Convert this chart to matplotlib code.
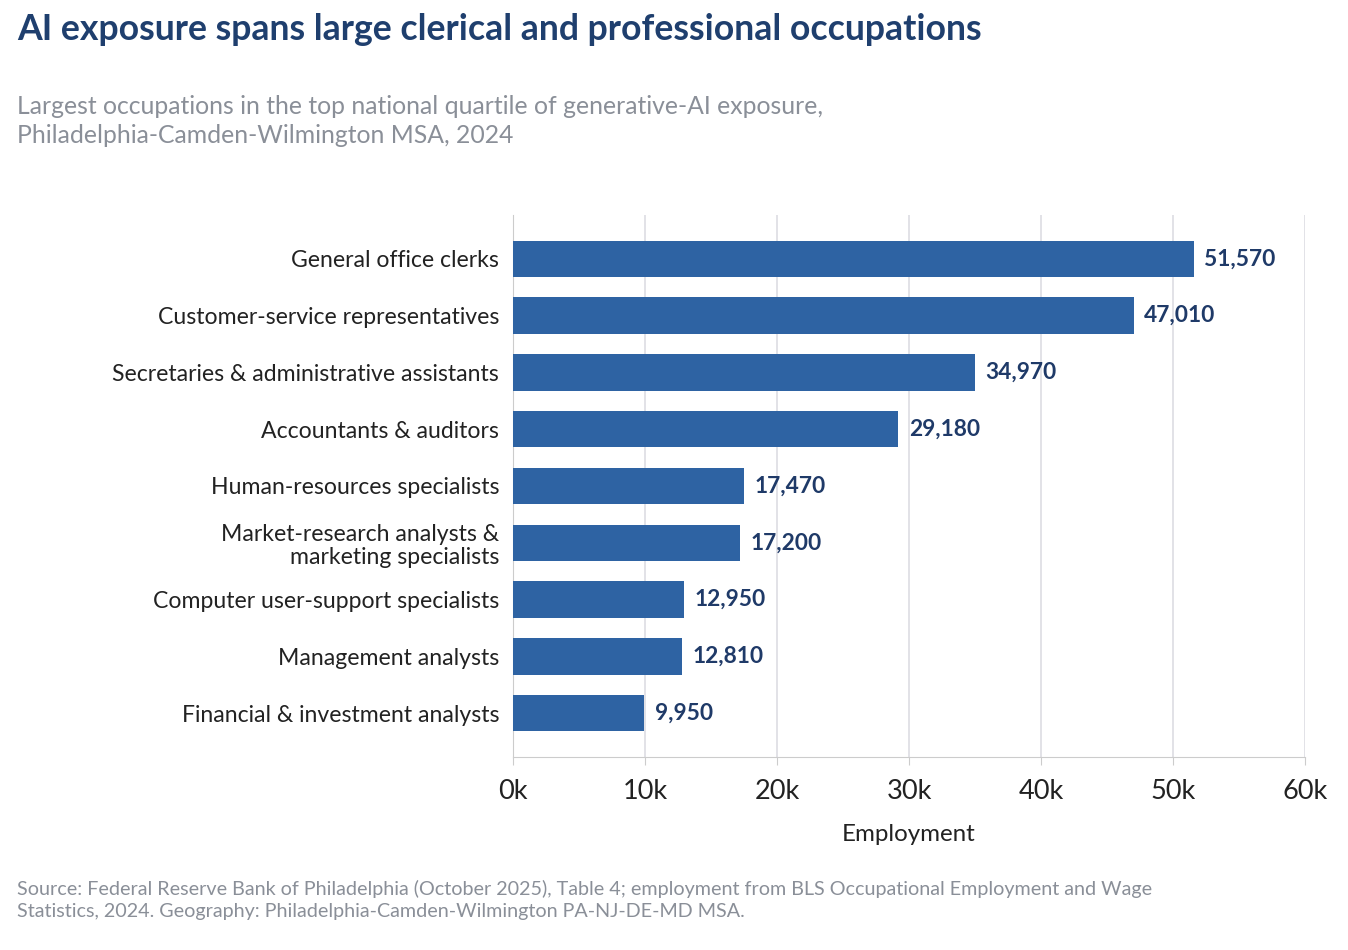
import matplotlib
import matplotlib.pyplot as plt
import numpy as np

plt.rcParams['font.family'] = ['Lato', 'DejaVu Sans']

occupations = ["General office clerks",
               "Customer-service representatives",
               "Secretaries & administrative assistants",
               "Accountants & auditors",
               "Human-resources specialists",
               "Market-research analysts &\nmarketing specialists",
               "Computer user-support specialists",
               "Management analysts",
               "Financial & investment analysts"]
employment = [51570, 47010, 34970, 29180, 17470, 17200, 12950, 12810, 9950]
xticks = [0, 10000, 20000, 30000, 40000, 50000, 60000]
xtick_labels = ["0k", "10k", "20k", "30k", "40k", "50k", "60k"]

fig = plt.figure(figsize=(13.48, 9.5), dpi=100)
ax = fig.add_axes([513/1348, 1-757/950, (1305-513)/1348, (757-215)/950])

ind = np.arange(len(occupations))
ax.barh(ind, employment, height=0.64, color='#2E63A3', zorder=3)
for i, v in enumerate(employment):
    ax.text(v + 800, i, f"{v:,}", va='center', ha='left', fontsize=16.4,
            fontweight='bold', color='#1F3A68')

ax.set_ylim(8.77, -0.77)
ax.set_xlim(0, 60000)
ax.set_yticks(ind)
ax.set_yticklabels(occupations, fontsize=16.6, color='#222222', linespacing=1.15)
ax.set_xticks(xticks)
ax.set_xticklabels(xtick_labels, fontsize=19.5, color='#222222')
ax.tick_params(axis='y', length=0, pad=10)
ax.tick_params(axis='x', length=6, color='#cccccc', pad=10)
ax.grid(axis='x', color='#dddde3', linewidth=1.2, zorder=0)
for s in ['top', 'right']:
    ax.spines[s].set_visible(False)
ax.spines['left'].set_color('#cccccc')
ax.spines['bottom'].set_color('#cccccc')
ax.set_xlabel("Employment", fontsize=17.4, color='#222222', labelpad=14)

fig.text(17/1348, 1-30/950, "AI exposure spans large clerical and professional occupations",
         fontsize=25.7, fontweight='bold', color='#1F3F6E', va='center')
fig.text(17/1348, 1-121/950,
         "Largest occupations in the top national quartile of generative-AI exposure,\nPhiladelphia-Camden-Wilmington MSA, 2024",
         fontsize=17.8, color='#8A8F98', va='center', linespacing=1.3)
fig.text(17/1348, 1-900/950,
         "Source: Federal Reserve Bank of Philadelphia (October 2025), Table 4; employment from BLS Occupational Employment and Wage\nStatistics, 2024. Geography: Philadelphia-Camden-Wilmington PA-NJ-DE-MD MSA.",
         fontsize=14.2, color='#8A8F98', va='center', linespacing=1.3)

plt.savefig('out.png', dpi=100)
